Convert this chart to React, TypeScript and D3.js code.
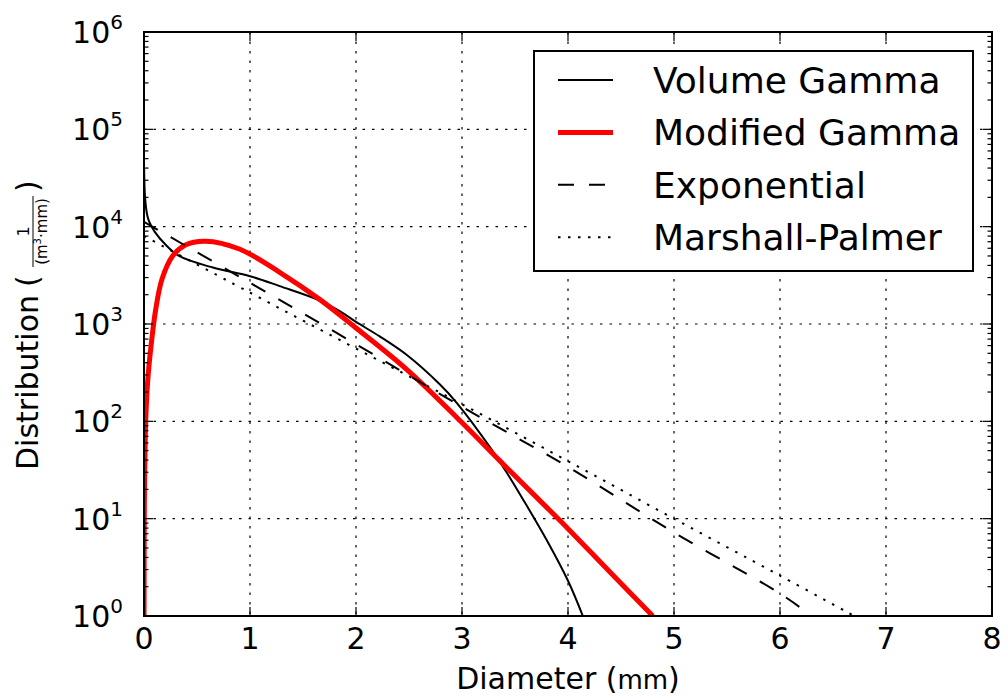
import React from 'react';
import * as d3 from 'd3';

// readings (diameter in mm, distribution in 1/(m^3 mm))
const volumeGammaD = [0.001, 0.01, 0.03, 0.05, 0.1, 0.2, 0.33, 0.65, 1.0, 1.28, 1.66, 1.85, 2.0, 2.22, 2.48, 2.79, 2.95, 3.26, 3.42, 3.58, 3.8, 4.0, 4.14];
const volumeGammaN = [40000, 20000, 13200, 11200, 8900, 6600, 5000, 3800, 3100, 2450, 1740, 1350, 1050, 750, 480, 240, 155, 55, 30, 15.5, 6.0, 2.3, 1.0];

const modGammaD = [0.0004, 0.002, 0.005, 0.016, 0.035, 0.063, 0.11, 0.17, 0.27, 0.39, 0.58, 0.9, 1.28, 1.66, 2.0, 2.48, 2.98, 3.36, 3.73, 4.0, 4.4, 4.8];
const modGammaN = [1, 7.6, 23, 100, 260, 550, 1400, 2900, 5000, 6500, 7100, 5900, 3400, 1780, 910, 340, 102, 39, 15.5, 7.9, 2.8, 1.0];

const expD = [0, 1, 2, 3, 4, 5, 6, 6.3];
const expN = [11200, 2650, 620, 141, 34, 7.2, 1.7, 1.0];

const mpD = [0, 1, 2, 3, 4, 5, 6, 6.7];
const mpN = [8000, 2100, 560, 150, 39, 10, 2.6, 1.0];

const xTicks = [0, 1, 2, 3, 4, 5, 6, 7, 8];
const yExponents = [0, 1, 2, 3, 4, 5, 6];

const SERIES = [
  { name: 'Volume Gamma', d: volumeGammaD, n: volumeGammaN, color: '#000', width: 2, dash: null },
  { name: 'Modified Gamma', d: modGammaD, n: modGammaN, color: '#ff0000', width: 5, dash: null },
  { name: 'Exponential', d: expD, n: expN, color: '#000', width: 2, dash: '16 15' },
  { name: 'Marshall-Palmer', d: mpD, n: mpN, color: '#000', width: 2, dash: '2.5 7.5' },
];

const W = 1008;
const H = 698;
const L = 144, R = 992, T = 32, B = 616;
const FONT = 'DejaVu Sans, sans-serif';

export default function App() {
  const x = d3.scaleLinear().domain([0, 8]).range([L, R]);
  const y = d3.scaleLog().domain([1, 1e6]).range([B, T]);

  const line = d3.line<[number, number]>()
    .x(p => x(p[0]))
    .y(p => y(p[1]))
    .curve(d3.curveCatmullRom.alpha(0.5));

  const minor: number[] = [];
  for (let e = 0; e < 6; e++) {
    for (let m = 2; m <= 9; m++) minor.push(m * Math.pow(10, e));
  }

  return (
    <svg width={W} height={H} style={{ position: 'fixed', left: 0, top: 0, background: '#fff' }} fontFamily={FONT}>
      <defs>
        <clipPath id="plot">
          <rect x={L} y={T} width={R - L} height={B - T} />
        </clipPath>
      </defs>

      {/* grid */}
      <g stroke="#000" strokeWidth={1.2} strokeDasharray="2.5 7">
        {xTicks.slice(1, -1).map(t => (
          <line key={'gx' + t} x1={x(t)} x2={x(t)} y1={T} y2={B} />
        ))}
        {yExponents.slice(1, -1).map(e => (
          <line key={'gy' + e} x1={L} x2={R} y1={y(Math.pow(10, e))} y2={y(Math.pow(10, e))} />
        ))}
      </g>

      {/* series */}
      <g clipPath="url(#plot)" fill="none">
        {SERIES.map(s => (
          <path
            key={s.name}
            d={line(s.d.map((v, i) => [v, s.n[i]] as [number, number])) || ''}
            stroke={s.color}
            strokeWidth={s.width}
            strokeDasharray={s.dash || undefined}
          />
        ))}
      </g>

      {/* ticks, inward on all sides */}
      <g stroke="#000" strokeWidth={1.2}>
        {xTicks.map(t => (
          <g key={'tx' + t}>
            <line x1={x(t)} x2={x(t)} y1={B} y2={B - 9} />
            <line x1={x(t)} x2={x(t)} y1={T} y2={T + 9} />
          </g>
        ))}
        {yExponents.map(e => (
          <g key={'ty' + e}>
            <line x1={L} x2={L + 9} y1={y(Math.pow(10, e))} y2={y(Math.pow(10, e))} />
            <line x1={R} x2={R - 9} y1={y(Math.pow(10, e))} y2={y(Math.pow(10, e))} />
          </g>
        ))}
        {minor.map(v => (
          <g key={'my' + v}>
            <line x1={L} x2={L + 4.5} y1={y(v)} y2={y(v)} />
            <line x1={R} x2={R - 4.5} y1={y(v)} y2={y(v)} />
          </g>
        ))}
      </g>

      {/* frame */}
      <rect x={L} y={T} width={R - L} height={B - T} fill="none" stroke="#000" strokeWidth={2} />

      {/* tick labels */}
      <g fontSize={30} fill="#000">
        {xTicks.map(t => (
          <text key={'lx' + t} x={x(t)} y={649} textAnchor="middle">{t}</text>
        ))}
        {yExponents.map(e => (
          <text key={'ly' + e} x={123} y={y(Math.pow(10, e)) + 11} textAnchor="end">
            <tspan>10</tspan>
            <tspan dy={-14} fontSize={20}>{e}</tspan>
          </text>
        ))}
      </g>

      {/* axis labels */}
      <text x={(L + R) / 2} y={689} textAnchor="middle" fontSize={30}>
        Diameter (<tspan fontSize={26}>mm</tspan>)
      </text>
      <g transform="translate(38,470) rotate(-90)">
        <text x={0} y={0} fontSize={30}>Distribution</text>
        <text x={183} y={0} fontSize={30}>(</text>
        <text x={238.5} y={-9} fontSize={16} textAnchor="middle">1</text>
        <line x1={203} x2={274} y1={-5} y2={-5} stroke="#000" strokeWidth={1} />
        <text x={238.5} y={9} fontSize={15} textAnchor="middle">
          (m<tspan dy={-6} fontSize={10}>3</tspan><tspan dy={6}>·mm)</tspan>
        </text>
        <text x={278} y={0} fontSize={30}>)</text>
      </g>

      {/* legend */}
      <g>
        <rect x={534} y={51} width={439} height={220} fill="#fff" stroke="#000" strokeWidth={2} />
        {SERIES.map((s, i) => {
          const cy = 80 + i * 52.4;
          return (
            <g key={'leg' + s.name}>
              <line x1={558} x2={613} y1={cy} y2={cy} stroke={s.color} strokeWidth={s.width}
                strokeDasharray={s.dash || undefined} />
              <text x={653} y={cy + 13} fontSize={36}>{s.name}</text>
            </g>
          );
        })}
      </g>
    </svg>
  );
}
